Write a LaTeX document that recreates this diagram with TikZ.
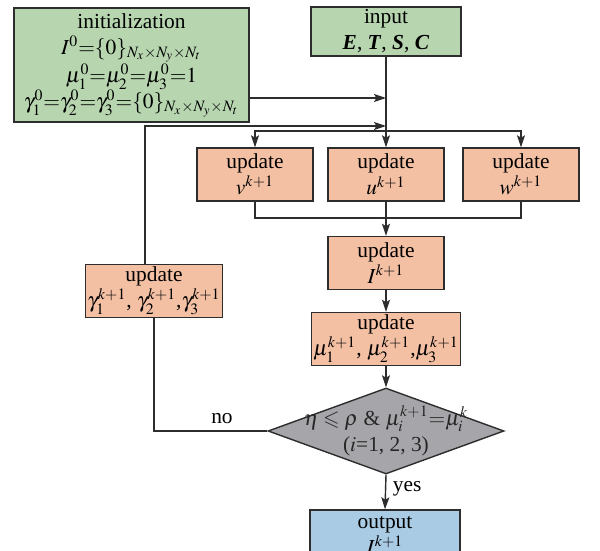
\documentclass[tikz,border=0pt]{standalone}
\usepackage{amsmath,amssymb}
\usepackage{mathptmx}
\usepackage{fontspec}
\setmainfont{Liberation Serif}
\usepackage{tikz}
\usetikzlibrary{positioning, calc, arrows.meta, shapes.geometric}

\definecolor{initgreen}{RGB}{183,214,176}
\definecolor{updsalmon}{RGB}{244,192,164}
\definecolor{condgray}{RGB}{166,166,170}
\definecolor{outblue}{RGB}{169,203,228}
\definecolor{linegray}{RGB}{45,45,45}

\tikzset{
  flowbox/.style={draw=linegray, line width=0.7pt, align=center, inner sep=1pt},
  greenbox/.style={flowbox, fill=initgreen},
  updbox/.style={flowbox, fill=updsalmon, minimum width=58pt, minimum height=26.5pt},
  condbox/.style={flowbox, diamond, fill=condgray, inner sep=0pt,
    minimum width=118pt, minimum height=43pt},
  outbox/.style={flowbox, fill=outblue, minimum width=75pt, minimum height=25pt},
  link/.style={draw=linegray, line width=0.7pt},
  arr/.style={link, -{Stealth[length=6pt,width=4pt,inset=1.2pt]}}
}

\begin{document}
\begin{tikzpicture}[x=0.5pt, y=-0.5pt, every node/.style={font=\fontsize{10.7}{13}\selectfont}]
    \useasboundingbox (0,0) rectangle (600,551);
    \clip (0,0) rectangle (600,551);

    \node[greenbox, minimum width=117.5pt, minimum height=57pt] (init) at (131.5,65)
        {initialization\\
         $I^0{=}\{0\}_{N_x\times N_y\times N_t}$\\
         $\mu_1^0{=}\mu_2^0{=}\mu_3^0{=}1$\\
         $\gamma_1^0{=}\gamma_2^0{=}\gamma_3^0{=}\{0\}_{N_x\times N_y\times N_t}$};
    \node[greenbox, minimum width=75pt, minimum height=24.5pt] (input) at (386,31.5)
        {input\\ \textbf{\textit{E}}, \textbf{\textit{T}}, \textbf{\textit{S}}, \textbf{\textit{C}}};

    \node[updbox] (v) at (255,174.5) {update\\ $v^{k+1}$};
    \node[updbox] (u) at (386,174.5) {update\\ $u^{k+1}$};
    \node[updbox] (w) at (521,174.5) {update\\ $w^{k+1}$};
    \node[updbox] (I) at (386,263) {update\\ $I^{k+1}$};
    \node[updbox, minimum width=73pt] (mu) at (386,339)
        {update\\ $\mu_1^{k+1}$, $\mu_2^{k+1}$,$\mu_3^{k+1}$};
    \node[updbox, minimum width=68pt] (gam) at (154,291)
        {update\\ $\gamma_1^{k+1}$, $\gamma_2^{k+1}$,$\gamma_3^{k+1}$};
    \node[condbox] (cond) at (386,431) {};
    \node[align=center, text=black!85] (condtext) at (cond.center)
        {$\eta\leqslant\rho$ \& $\mu_i^{k+1}{=}\mu_i^k$\\ ($i$=1, 2, 3)};
    \node[outbox] (out) at (385,535) {output\\ $I^{k+1}$};

    \coordinate (j1) at (386,98);
    \coordinate (j2) at (386,126);
    \coordinate (split) at (386,131);
    \coordinate (merge) at (386,218);

    % input and initial values
    \draw[arr] (input.south) -- (u.north);
    \draw[arr] (init.east |- j1) -- (j1);
    \draw[arr] ($(gam.north)+(-9,0)$) |- (j2);

    % split to the three updates
    \draw[arr] (split) -| (v.north);
    \draw[arr] (split) -| (w.north);
    \draw[link] (v.south) |- (merge) -| (w.south);
    \draw[arr] (u.south) -- (I.north);
    \draw[arr] (I.south) -- (mu.north);
    \draw[arr] (mu.south) -- (cond.north);

    % decision
    \draw[arr] (cond.south) -- node[right, pos=0.4] {yes} (out.north);
    \draw[link] (cond.west) -- node[above, pos=0.4] {no} (cond.west -| gam.south) -- (gam.south);
\end{tikzpicture}
\end{document}
